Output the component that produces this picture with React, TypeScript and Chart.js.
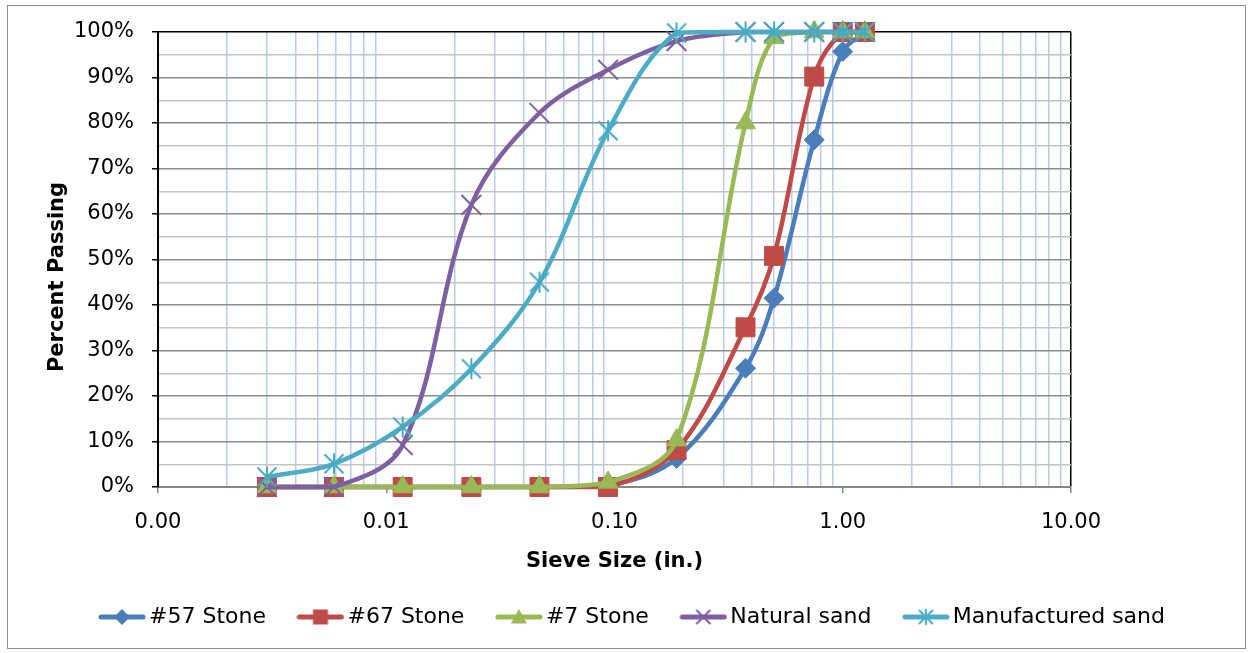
import React, { useEffect, useRef } from 'react';
import { Chart, registerables } from 'chart.js';

Chart.register(...registerables);

// ---------- data ----------
const sieveSizes = [0.003, 0.0059, 0.0118, 0.0236, 0.0469, 0.0937, 0.187, 0.375, 0.5, 0.75, 1.0, 1.25];
const stone57 = [0, 0, 0, 0, 0, 0.3, 6.3, 26.1, 41.5, 76.3, 95.7, 100];
const stone67 = [0, 0, 0, 0, 0, 0, 8.1, 35.1, 50.8, 90.2, 100, 100];
const stone7 = [0, 0, 0, 0, 0, 1.0, 10.3, 80.0, 98.7, 100, 100, 100];
const naturalSand = [0, 0, 9.2, 62.0, 82.2, 91.7, 98.0, 100, 100, 100, 100, 100];
const manufacturedSand = [2.2, 5.1, 13.2, 26.0, 45.0, 78.3, 99.8, 100, 100, 100, 100, 100];

const seriesNames = ['#57 Stone', '#67 Stone', '#7 Stone', 'Natural sand', 'Manufactured sand'];
const seriesValues = [stone57, stone67, stone7, naturalSand, manufacturedSand];
const seriesColors = ['#4a7ebb', '#be4b48', '#98b954', '#7d60a0', '#4bacc6'];
const seriesMarkers = ['diamond', 'square', 'triangle', 'x', 'star'];

const yTickValues = [0, 5, 10, 15, 20, 25, 30, 35, 40, 45, 50, 55, 60, 65, 70, 75, 80, 85, 90, 95, 100];
const xDecades = [0.001, 0.01, 0.1, 1, 10];
const xMultipliers = [1, 2, 3, 4, 5, 6, 7, 8, 9];

const xAxisTitle = 'Sieve Size (in.)';
const yAxisTitle = 'Percent Passing';

const FONT = "'DejaVu Sans', sans-serif";

// ---------- helpers ----------
const xTickValues: number[] = [];
xDecades.forEach((d, i) => {
  if (i === xDecades.length - 1) {
    xTickValues.push(d);
  } else {
    xMultipliers.forEach((m) => xTickValues.push(Number((m * d).toPrecision(6))));
  }
});

const isDecade = (v: number) => Math.abs(Math.log10(v) - Math.round(Math.log10(v))) < 1e-6;

function drawMarker(g: CanvasRenderingContext2D, style: string, cx: number, cy: number, color: string, s: number) {
  g.fillStyle = color;
  g.strokeStyle = color;
  g.beginPath();
  if (style === 'diamond') {
    g.moveTo(cx, cy - s);
    g.lineTo(cx + s, cy);
    g.lineTo(cx, cy + s);
    g.lineTo(cx - s, cy);
    g.closePath();
    g.fill();
  } else if (style === 'square') {
    g.rect(cx - s, cy - s, 2 * s, 2 * s);
    g.fill();
  } else if (style === 'triangle') {
    g.moveTo(cx, cy - s);
    g.lineTo(cx + s, cy + s * 0.8);
    g.lineTo(cx - s, cy + s * 0.8);
    g.closePath();
    g.fill();
  } else if (style === 'x') {
    g.lineWidth = 2;
    g.moveTo(cx - s, cy - s);
    g.lineTo(cx + s, cy + s);
    g.moveTo(cx + s, cy - s);
    g.lineTo(cx - s, cy + s);
    g.stroke();
  } else if (style === 'star') {
    g.lineWidth = 2;
    g.moveTo(cx - s, cy - s);
    g.lineTo(cx + s, cy + s);
    g.moveTo(cx + s, cy - s);
    g.lineTo(cx - s, cy + s);
    g.moveTo(cx, cy - s * 1.1);
    g.lineTo(cx, cy + s * 1.1);
    g.stroke();
  }
}

function makeStarImage(color: string) {
  const c = document.createElement('canvas');
  c.width = 24;
  c.height = 24;
  const g = c.getContext('2d')!;
  drawMarker(g, 'star', 12, 12, color, 9.5);
  return c;
}

function makeLegendImage(color: string, style: string) {
  const c = document.createElement('canvas');
  c.width = 48;
  c.height = 24;
  const g = c.getContext('2d')!;
  g.strokeStyle = color;
  g.lineWidth = 5;
  g.lineCap = 'round';
  g.beginPath();
  g.moveTo(3, 12);
  g.lineTo(45, 12);
  g.stroke();
  const sizes: Record<string, number> = { diamond: 8, square: 7.5, triangle: 8, x: 6.5, star: 6.5 };
  drawMarker(g, style, 24, 12, color, sizes[style]);
  return c;
}

// y-axis title, drawn by a small plugin so it can sit where the original puts it
const yTitlePlugin = {
  id: 'yTitle',
  afterDraw(chart: any) {
    const { ctx } = chart;
    ctx.save();
    ctx.translate(58, 277);
    ctx.rotate(-Math.PI / 2);
    ctx.font = `bold 21px ${FONT}`;
    ctx.fillStyle = '#000';
    ctx.textAlign = 'center';
    ctx.textBaseline = 'middle';
    ctx.fillText(yAxisTitle, 0, 0);
    ctx.restore();
  },
};

export default function App() {
  const canvasRef = useRef<HTMLCanvasElement | null>(null);

  useEffect(() => {
    if (!canvasRef.current) return;
    Chart.defaults.font.family = FONT;

    const legendImages = seriesNames.map((_, i) => makeLegendImage(seriesColors[i], seriesMarkers[i]));
    const starImage = makeStarImage('#46aac5');

    const pointCfg: Record<string, any> = {
      diamond: { pointStyle: 'rectRot', pointRadius: 10 },
      square: { pointStyle: 'rect', pointRadius: 13.4 },
      triangle: { pointStyle: 'triangle', pointRadius: 11.5 },
      x: { pointStyle: 'crossRot', pointRadius: 14, pointBorderWidth: 2 },
      star: { pointStyle: starImage, pointRadius: 10 },
    };

    const datasets = seriesNames.map((name, i) => ({
      label: name,
      data: sieveSizes.map((x, j) => ({ x, y: seriesValues[i][j] })),
      borderColor: seriesColors[i],
      backgroundColor: seriesColors[i],
      pointBackgroundColor: seriesColors[i],
      pointBorderColor: seriesColors[i],
      pointBorderWidth: 1,
      borderWidth: 4.5,
      borderCapStyle: 'round' as const,
      borderJoinStyle: 'round' as const,
      tension: 0.35,
      order: seriesNames.length - i,
      clip: false as any,
      xAxisID: 'x',
      yAxisID: 'y',
      ...pointCfg[seriesMarkers[i]],
    }));

    const chart = new Chart(canvasRef.current, {
      type: 'line',
      data: { datasets },
      plugins: [yTitlePlugin],
      options: {
        responsive: false,
        animation: false,
        events: [],
        layout: { padding: { left: 18, top: 32, right: 0, bottom: 15 } },
        plugins: {
          tooltip: { enabled: false },
          legend: {
            display: true,
            position: 'bottom',
            labels: {
              usePointStyle: true,
              pointStyleWidth: 32,
              padding: 38.5,
              color: '#000',
              font: { family: FONT, size: 22 },
              generateLabels: () =>
                seriesNames.map((name, i) => ({
                  text: name,
                  pointStyle: legendImages[i] as any,
                  fillStyle: 'transparent',
                  strokeStyle: 'transparent',
                  lineWidth: 0,
                  hidden: false,
                  datasetIndex: i,
                  fontColor: '#000',
                })),
            },
          },
        },
        scales: {
          x: {
            type: 'logarithmic',
            position: 'bottom',
            min: 0.001,
            max: 10,
            afterBuildTicks: (scale: any) => {
              scale.ticks = xTickValues.map((v) => ({ value: v, major: isDecade(v) }));
            },
            afterFit: (scale: any) => {
              scale.height = 80.5;
            },
            ticks: {
              autoSkip: false,
              maxRotation: 0,
              padding: 16.5,
              color: '#000',
              font: { family: FONT, size: 21 },
              callback: (v: any) => (isDecade(Number(v)) ? Number(v).toFixed(2) : ''),
            },
            grid: {
              drawTicks: true,
              tickLength: 6,
              lineWidth: 1.5,
              color: (ctx: any) => {
                const v = ctx.tick ? ctx.tick.value : 0;
                if (!isDecade(v)) return '#b8cdec';
                return v >= 10 ? '#000000' : 'rgba(0,0,0,0)';
              },
              tickColor: (ctx: any) => {
                const v = ctx.tick ? ctx.tick.value : 0;
                return isDecade(v) ? '#868686' : 'rgba(0,0,0,0)';
              },
            },
            border: { display: true, color: '#868686', width: 2 },
            title: {
              display: true,
              text: xAxisTitle,
              color: '#000',
              font: { family: FONT, size: 21, weight: 'bold', lineHeight: 1 },
              padding: { top: 0, bottom: -5 },
            },
          },
          y: {
            type: 'linear',
            position: 'left',
            min: 0,
            max: 100,
            afterBuildTicks: (scale: any) => {
              scale.ticks = yTickValues.map((v) => ({ value: v }));
            },
            afterFit: (scale: any) => {
              scale.width = 140;
            },
            ticks: {
              autoSkip: false,
              padding: 18,
              color: '#000',
              font: { family: FONT, size: 21 },
              callback: (v: any) => (Number(v) % 10 === 0 ? `${v}%` : ''),
            },
            grid: {
              drawTicks: true,
              tickLength: 6,
              lineWidth: 1.5,
              color: (ctx: any) => {
                const v = ctx.tick ? ctx.tick.value : 0;
                if (v === 0) return 'rgba(0,0,0,0)';
                if (v === 100) return '#000000';
                return v % 10 === 0 ? '#8c8c8c' : '#c4c4c4';
              },
              tickColor: (ctx: any) => {
                const v = ctx.tick ? ctx.tick.value : 0;
                return v % 10 === 0 ? '#000000' : 'rgba(0,0,0,0)';
              },
            },
            border: { display: true, color: '#000', width: 2 },
            title: { display: false },
          },
          yR: {
            type: 'linear',
            position: 'right',
            display: true,
            grid: { display: false },
            border: { display: false },
            ticks: { display: false },
            afterFit: (scale: any) => {
              scale.width = 182;
            },
          },
        },
      } as any,
    });

    return () => {
      chart.destroy();
    };
  }, []);

  return (
    <div style={{ position: 'absolute', left: 0, top: 0, width: 1253, height: 653, background: '#fff' }}>
      <canvas ref={canvasRef} width={1253} height={653} style={{ width: 1253, height: 653, display: 'block' }} />
      <div
        style={{
          position: 'absolute',
          left: 7,
          top: 5,
          width: 1239,
          height: 644,
          boxSizing: 'border-box',
          border: '1px solid #8c8c8c',
          pointerEvents: 'none',
        }}
      />
    </div>
  );
}
